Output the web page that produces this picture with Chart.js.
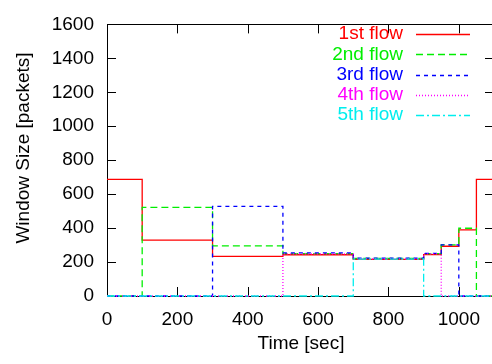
<!DOCTYPE html>
<html>
<head>
<meta charset="utf-8">
<script src="https://cdn.jsdelivr.net/npm/chart.js@4/dist/chart.umd.min.js"></script>
<style>
  html, body { margin:0; padding:0; background:#fff; overflow:hidden; }
  canvas { display:block; }
</style>
</head>
<body>
<canvas id="windowChart" width="496" height="364"></canvas>
<script>
// =========================================
// Data
// =========================================

const times = [0, 100, 300, 500, 700, 900, 950, 1000, 1050, 1100];

const flow1 = [687, 329, 233, 243, 216, 244, 293, 390, 687, 687];
const flow2 = [0, 522, 295, 250, 221, 250, 301, 399, 0, 0];
const flow3 = [0, 0, 528, 254, 223, 251, 301, 0, 0, 0];
const flow4 = [0, 0, 0, 248, 219, 248, 0, 0, 0, 0];
const flow5 = [0, 0, 0, 0, 217, 0, 0, 0, 0, 0];

const flowNames = ["1st flow", "2nd flow", "3rd flow", "4th flow", "5th flow"];

const xTicks = [0, 200, 400, 600, 800, 1000];
const yTicks = [0, 200, 400, 600, 800, 1000, 1200, 1400, 1600];

const FONT = "Liberation Sans, Arial, sans-serif";

function toPoints(values){
    return times.map((t, i) => ({x:t, y:values[i]}));
}

function makeSet(label, values, color, dash, order){
    return {
        label:label,
        data:toPoints(values),
        borderColor:color,
        backgroundColor:color,
        borderWidth:1.3,
        borderDash:dash,
        stepped:true,
        pointRadius:0,
        fill:false,
        clip:4,
        order:order
    };
}

// =========================================
// Frame, inner ticks, titles and key
// =========================================

const framePlugin = {
    id:"frame",
    beforeDatasetsDraw(chart){
        const ctx = chart.ctx;
        const a = chart.chartArea;
        const xs = chart.scales.x;
        const ys = chart.scales.y;
        ctx.save();
        ctx.strokeStyle = "#000";
        ctx.lineWidth = 1;
        ctx.beginPath();
        xTicks.forEach(v => {
            const px = Math.round(xs.getPixelForValue(v)) + 0.5;
            ctx.moveTo(px, a.bottom); ctx.lineTo(px, a.bottom - 9);
            ctx.moveTo(px, a.top); ctx.lineTo(px, a.top + 9);
        });
        yTicks.forEach(v => {
            const py = Math.round(ys.getPixelForValue(v)) + 0.5;
            ctx.moveTo(a.left, py); ctx.lineTo(a.left + 9, py);
            ctx.moveTo(a.right, py); ctx.lineTo(a.right - 9, py);
        });
        ctx.stroke();
        ctx.strokeRect(Math.round(a.left) + 0.5, Math.round(a.top) + 0.5,
            Math.round(a.right - a.left), Math.round(a.bottom - a.top));
        ctx.restore();
    },
    afterDraw(chart){
        const ctx = chart.ctx;
        ctx.save();
        ctx.fillStyle = "#000";
        ctx.font = "19px " + FONT;
        ctx.textAlign = "center";
        ctx.textBaseline = "middle";
        ctx.fillText("Time [sec]", 301, 344);
        ctx.translate(24, 148);
        ctx.rotate(-Math.PI / 2);
        ctx.fillText("Window Size [packets]", 0, 0);
        ctx.restore();

        // key, top right
        ctx.save();
        ctx.font = "19px " + FONT;
        ctx.textAlign = "right";
        ctx.textBaseline = "middle";
        chart.data.datasets.forEach((ds, i) => {
            const y = 34 + i * 20.3;
            ctx.fillStyle = ds.borderColor;
            ctx.fillText(ds.label, 403, y);
            ctx.strokeStyle = ds.borderColor;
            ctx.lineWidth = ds.borderWidth;
            ctx.setLineDash(ds.borderDash);
            ctx.beginPath();
            ctx.moveTo(416, Math.round(y) + 0.5);
            ctx.lineTo(470, Math.round(y) + 0.5);
            ctx.stroke();
        });
        ctx.restore();
    }
};

// =========================================
// Chart
// =========================================

new Chart(document.getElementById("windowChart"),{

    type:"line",

    data:{
        datasets:[
            makeSet(flowNames[0], flow1, "#ff0000", [], 5),
            makeSet(flowNames[1], flow2, "#00ee00", [7, 4], 4),
            makeSet(flowNames[2], flow3, "#0000ff", [4, 4], 3),
            makeSet(flowNames[3], flow4, "#ff00ff", [1, 2], 2),
            makeSet(flowNames[4], flow5, "#00eeee", [8, 3, 2, 3], 1)
        ]
    },

    options:{
        responsive:false,
        animation:false,
        events:[],
        layout:{ padding:{ top:14, right:2, left:0, bottom:0 } },
        plugins:{
            legend:{ display:false },
            tooltip:{ enabled:false }
        },
        scales:{
            x:{
                type:"linear",
                min:0,
                max:1100,
                afterFit(s){ s.height = 68; },
                afterBuildTicks(s){ s.ticks = xTicks.map(v => ({value:v})); },
                grid:{ drawOnChartArea:false, drawTicks:false },
                border:{ color:"#000", width:1 },
                ticks:{
                    color:"#000",
                    padding:12,
                    maxRotation:0,
                    autoSkip:false,
                    callback:v => String(v),
                    font:{ family:FONT, size:19 }
                }
            },
            y:{
                min:0,
                max:1600,
                afterFit(s){ s.width = 107; },
                afterBuildTicks(s){ s.ticks = yTicks.map(v => ({value:v})); },
                grid:{ drawOnChartArea:false, drawTicks:false },
                border:{ color:"#000", width:1 },
                ticks:{
                    color:"#000",
                    padding:13,
                    autoSkip:false,
                    callback:v => String(v),
                    font:{ family:FONT, size:19 }
                }
            }
        }
    },

    plugins:[framePlugin]

});
</script>
</body>
</html>
